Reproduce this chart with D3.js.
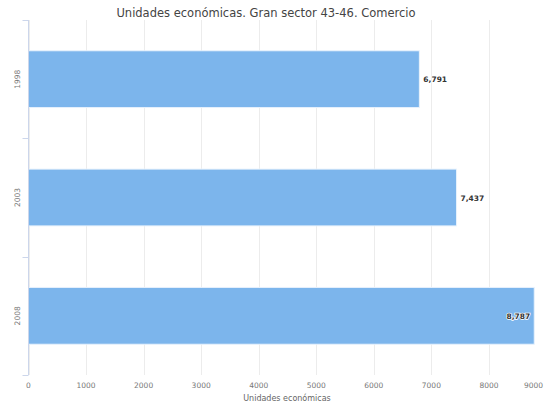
<!DOCTYPE html>
<html>
<head>
<meta charset="utf-8">
<script src="https://cdn.jsdelivr.net/npm/d3@7"></script>
<style>
  body { margin: 0; background: #fff; overflow: hidden; }
  svg { font-family: "DejaVu Sans", "Lucida Grande", sans-serif; }
</style>
</head>
<body>
<div class="chart"></div>
<script>
const years = ['1998', '2003', '2008'];
const unidades = [6791, 7437, 8787];
const xTicks = [0, 1000, 2000, 3000, 4000, 5000, 6000, 7000, 8000, 9000];

const width = 544;
const height = 407;
const plotLeft = 28.5, plotTop = 20, plotBottom = 375;

const svg = d3.select('.chart')
  .append('svg')
  .attr('width', width)
  .attr('height', height);

const x = d3.scaleLinear().domain([0, 9000]).range([plotLeft, plotLeft + 518]);
const y = d3.scaleBand().domain(years).range([plotTop, plotBottom]).paddingInner(0.52).paddingOuter(0.26);

// gridlines
svg.selectAll('.grid')
  .data(xTicks)
  .enter()
  .append('line')
  .attr('x1', d => Math.round(x(d)) + 0.5)
  .attr('x2', d => Math.round(x(d)) + 0.5)
  .attr('y1', plotTop)
  .attr('y2', plotBottom)
  .attr('stroke', '#ececec')
  .attr('stroke-width', 1);

// bars
svg.selectAll('rect')
  .data(years)
  .enter()
  .append('rect')
  .attr('x', x(0))
  .attr('y', d => y(d))
  .attr('width', (d, i) => x(unidades[i]) - x(0))
  .attr('height', y.bandwidth())
  .attr('fill', '#7cb5ec')
  .attr('stroke', '#e8f2fc')
  .attr('stroke-width', 1);

// y axis line and ticks
svg.append('line')
  .attr('x1', plotLeft).attr('x2', plotLeft)
  .attr('y1', plotTop).attr('y2', plotBottom)
  .attr('stroke', '#ccd6eb');

const catBounds = [plotTop].concat(years.map((d, i) => plotTop + (i + 1) * (plotBottom - plotTop) / years.length));
svg.selectAll('.ytick')
  .data(catBounds)
  .enter()
  .append('line')
  .attr('x1', plotLeft - 6).attr('x2', plotLeft)
  .attr('y1', d => Math.round(d) + 0.5)
  .attr('y2', d => Math.round(d) + 0.5)
  .attr('stroke', '#ccd6eb');

// y labels
svg.selectAll('.ylabel')
  .data(years)
  .enter()
  .append('text')
  .attr('transform', d => 'translate(' + 20 + ',' + (y(d) + y.bandwidth() / 2) + ') rotate(-90)')
  .attr('text-anchor', 'middle')
  .attr('font-size', '7.5px')
  .attr('fill', '#777')
  .text(d => d);

// x labels (last one kept inside the page)
svg.selectAll('.xlabel')
  .data(xTicks)
  .enter()
  .append('text')
  .attr('x', d => x(d) + 10 > width ? width - 1 : x(d))
  .attr('y', 388)
  .attr('text-anchor', d => x(d) + 10 > width ? 'end' : 'middle')
  .attr('font-size', '7.5px')
  .attr('fill', '#777')
  .text(d => d);

svg.append('text')
  .attr('x', 287)
  .attr('y', 401)
  .attr('text-anchor', 'middle')
  .attr('font-size', '8px')
  .attr('fill', '#666')
  .text('Unidades económicas');

// data labels
const fmt = d3.format(',');
svg.selectAll('.dlabel')
  .data(years)
  .enter()
  .append('text')
  .attr('x', (d, i) => x(unidades[i]) + 4 > 500 ? x(unidades[i]) - 4 : x(unidades[i]) + 4)
  .attr('y', d => y(d) + y.bandwidth() / 2 + 3)
  .attr('text-anchor', (d, i) => x(unidades[i]) + 4 > 500 ? 'end' : 'start')
  .attr('font-size', '7.5px')
  .attr('font-weight', 'bold')
  .attr('fill', '#333')
  .attr('stroke', '#fff')
  .attr('stroke-width', 1.5)
  .attr('paint-order', 'stroke')
  .text((d, i) => fmt(unidades[i]));

// title
svg.append('text')
  .attr('x', 266)
  .attr('y', 17)
  .attr('text-anchor', 'middle')
  .attr('font-size', '11.5px')
  .attr('fill', '#444')
  .text('Unidades económicas. Gran sector 43-46. Comercio');
</script>
</body>
</html>
